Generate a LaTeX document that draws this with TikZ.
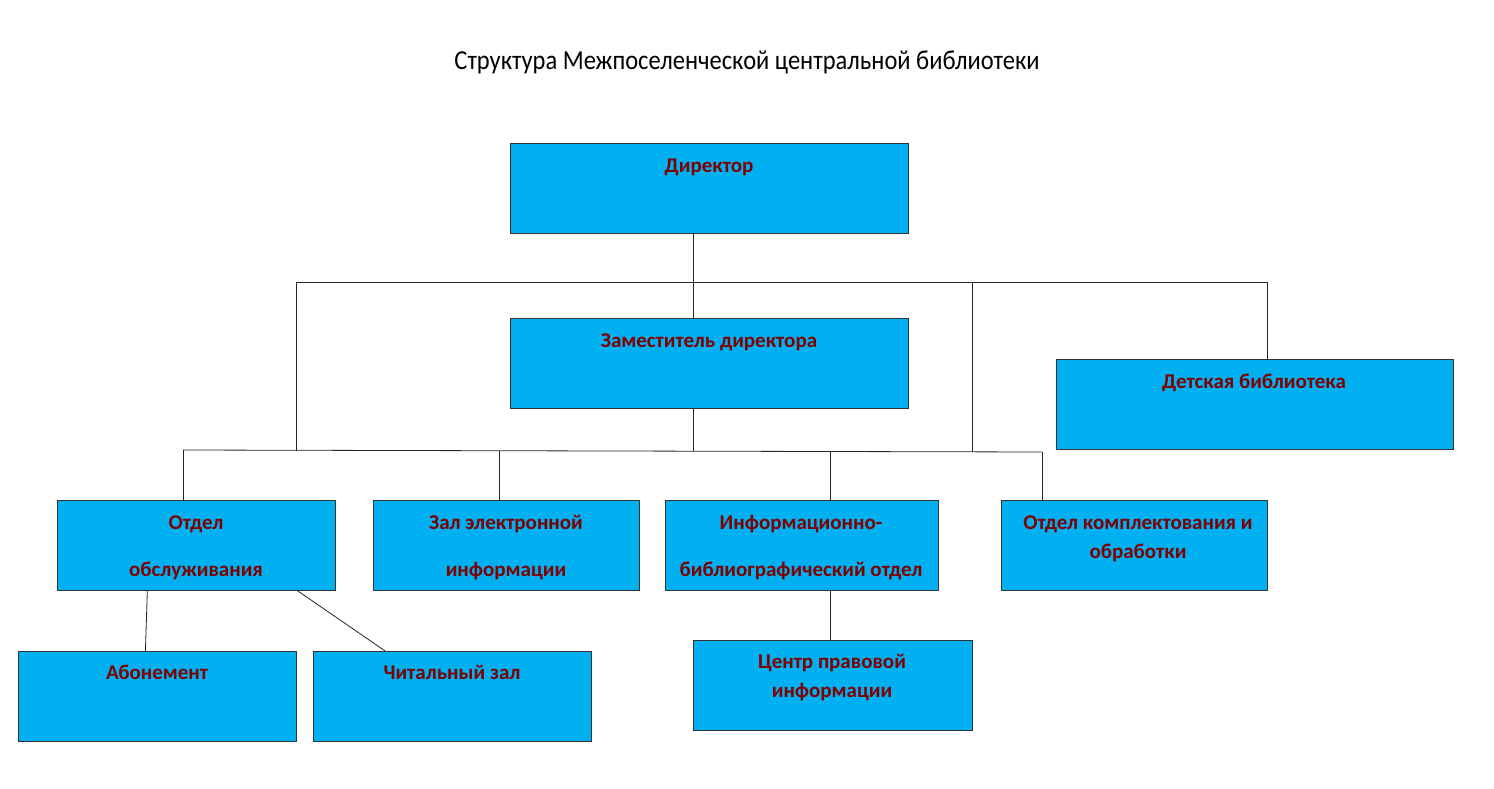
\documentclass[tikz,border=0pt]{standalone}
\usepackage{fontspec}
\setmainfont{Carlito}
\usetikzlibrary{calc}
\definecolor{boxfill}{HTML}{00B0F0}
\definecolor{boxtext}{HTML}{7F0000}
\begin{document}
\begin{tikzpicture}[x=1pt,y=-1pt,
  box/.style={draw=black!80, line width=0.8pt, fill=boxfill, rectangle, inner sep=0pt, anchor=north west, minimum height=90pt},
  lbl/.style={font=\fontsize{21}{26}\selectfont\bfseries, text=boxtext, anchor=base, inner sep=0pt},
  conn/.style={draw=black!85, line width=0.8pt}]
\useasboundingbox (0,0) rectangle (1494,789);
\fill[white] (0,0) rectangle (1494,789);

\node[font=\fontsize{24.5}{28}\selectfont, anchor=base, inner sep=0pt] (title) at (747,70) {\scalebox{1}[1.12]{Структура Межпоселенческой центральной библиотеки}};

% boxes
\node[box, minimum width=398pt] (dir) at (510,143) {};
\node[box, minimum width=398pt] (dep) at (510,318) {};
\node[box, minimum width=397pt] (kids) at (1056,359) {};
\node[box, minimum width=278pt] (obs) at (57,500) {};
\node[box, minimum width=266pt] (zal) at (373,500) {};
\node[box, minimum width=273pt] (inf) at (665,500) {};
\node[box, minimum width=266pt] (kom) at (1001,500) {};
\node[box, minimum width=278pt] (abo) at (18,651) {};
\node[box, minimum width=278pt] (chit) at (313,651) {};
\node[box, minimum width=279pt] (cpi) at (693,640) {};

% labels
\node[lbl] (tdir) at (709,172) {Директор};
\node[lbl] (tdep) at (709,347) {Заместитель директора};
\node[lbl] (tkids) at (1254,388) {Детская библиотека};
\node[lbl] (tobs1) at (196,529) {Отдел};
\node[lbl] (tobs2) at (196,576) {обслуживания};
\node[lbl] (tzal1) at (506,529) {Зал электронной};
\node[lbl] (tzal2) at (506,576) {информации};
\node[lbl] (tinf1) at (801,529) {Информационно-};
\node[lbl] (tinf2) at (801,576) {библиографический отдел};
\node[lbl] (tkom1) at (1138,529) {Отдел комплектования и};
\node[lbl] (tkom2) at (1138,558) {обработки};
\node[lbl] (tabo) at (157,679) {Абонемент};
\node[lbl] (tchit) at (452,679) {Читальный зал};
\node[lbl] (tcpi1) at (832,668) {Центр правовой};
\node[lbl] (tcpi2) at (832,697) {информации};

% junction coordinates
\coordinate (t1L) at (296,282);
\coordinate (t1C) at (693,282);
\coordinate (t1K) at (972,282);
\coordinate (t1R) at (1267,282);
\coordinate (t2L) at (183,450);
\coordinate (t2C) at (693,451);
\coordinate (t2Z) at (499,451);
\coordinate (t2I) at (830,451);
\coordinate (t2R) at (1042,452);

% connectors
\draw[conn] (dir.south -| t1C) -- (dep.north -| t1C);
\draw[conn] (t1L) -- (t1R) -- (kids.north -| t1R);
\draw[conn] (t1L) -- (t1L |- t2C);
\draw[conn] (t1K) -- (t1K |- t2R);
\draw[conn] (dep.south -| t1C) -- (t2C);
\draw[conn] (t2L) -- (t2R);
\draw[conn] (t2L) -- (obs.north -| t2L);
\draw[conn] (t2Z) -- (zal.north -| t2Z);
\draw[conn] (t2I) -- (inf.north -| t2I);
\draw[conn] (t2R) -- (kom.north -| t2R);
\draw[conn] ($(obs.south west)!0.324!(obs.south east)$) -- ($(abo.north west)!0.457!(abo.north east)$);
\draw[conn] ($(obs.south west)!0.863!(obs.south east)$) -- ($(chit.north west)!0.259!(chit.north east)$);
\draw[conn] (inf.south -| t2I) -- (cpi.north -| t2I);
\end{tikzpicture}
\end{document}
